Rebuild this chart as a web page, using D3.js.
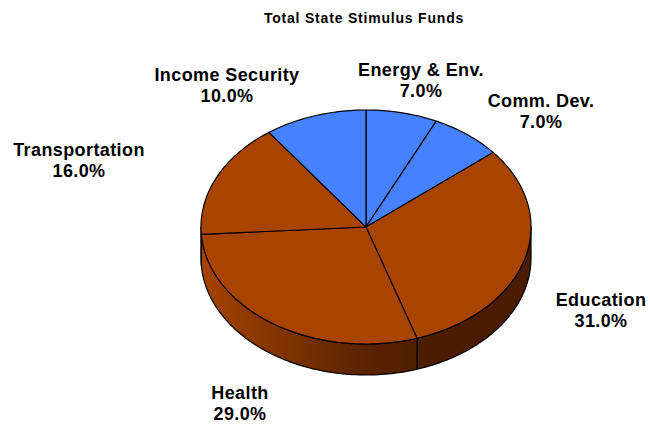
<!DOCTYPE html>
<html>
<head>
<meta charset="utf-8">
<script src="https://cdn.jsdelivr.net/npm/d3@7"></script>
<style>
  html, body { margin: 0; padding: 0; background: #fff; }
  svg { display: block; }
  text { font-family: "Liberation Sans", Arial, sans-serif; fill: #000; }
</style>
</head>
<body>
<svg id="chart" width="650" height="426"></svg>
<script>
// Shares of total state stimulus funds, clockwise from 12 o'clock
const categories = ["Energy & Env.", "Comm. Dev.", "Education", "Health", "Transportation", "Income Security"];
const shares = [7.0, 7.0, 31.0, 29.0, 16.0, 10.0];
const groups = ["blue", "blue", "brown", "brown", "brown", "blue"];

// Label anchors (centre of first line) for each category
const labelAnchors = [[421, 70], [541, 101], [601, 300], [240, 393], [79, 150], [227, 75]];

const W = 650, H = 426;
const cx = 366, cy = 227, rx = 165, ry = 117, depth = 31;

const topFill = { blue: "#4682FF", brown: "#A84400" };

const svg = d3.select("#chart");
const defs = svg.append("defs");

// Side wall shading: lit from the left, fading dark toward the right
const grad = defs.append("linearGradient")
  .attr("id", "sideShade")
  .attr("gradientUnits", "userSpaceOnUse")
  .attr("x1", cx - rx).attr("y1", 0)
  .attr("x2", cx + rx).attr("y2", 0);
grad.append("stop").attr("offset", "0").attr("stop-color", "#A54300");
grad.append("stop").attr("offset", "0.18").attr("stop-color", "#8A3700");
grad.append("stop").attr("offset", "0.5").attr("stop-color", "#5A2300");
grad.append("stop").attr("offset", "0.7").attr("stop-color", "#4C1C00");
grad.append("stop").attr("offset", "1").attr("stop-color", "#4A1B00");

const pie = d3.pie().sort(null).startAngle(0).endAngle(2 * Math.PI).value(d => d.value);
const data = categories.map((c, i) => ({ name: c, value: shares[i], group: groups[i] }));
const arcs = pie(data);

// Point on the tilted rim; angle measured clockwise from 12 o'clock
const px = a => cx + rx * Math.sin(a);
const py = (a, dz = 0) => cy - ry * Math.cos(a) + dz;

function rimPoints(a0, a1, dz) {
  const n = Math.max(2, Math.ceil(Math.abs(a1 - a0) / 0.02));
  const pts = [];
  for (let k = 0; k <= n; k++) {
    const a = a0 + (a1 - a0) * k / n;
    pts.push([px(a), py(a, dz)]);
  }
  return pts;
}

const line = d3.line();

// Side walls: only the front half (90°..270°) is visible
const front0 = Math.PI / 2, front1 = 3 * Math.PI / 2;
const sides = arcs.map(d => {
  const a0 = Math.max(d.startAngle, front0), a1 = Math.min(d.endAngle, front1);
  if (a1 <= a0) return null;
  const pts = rimPoints(a0, a1, 0).concat(rimPoints(a1, a0, depth));
  return line(pts) + "Z";
}).filter(Boolean);

svg.append("g").selectAll("path")
  .data(sides)
  .join("path")
  .attr("d", d => d)
  .attr("fill", "url(#sideShade)")
  .attr("stroke", "#000")
  .attr("stroke-width", 1.2)
  .attr("stroke-linejoin", "round");

// Top faces
svg.append("g").selectAll("path")
  .data(arcs)
  .join("path")
  .attr("d", d => line([[cx, cy]].concat(rimPoints(d.startAngle, d.endAngle, 0))) + "Z")
  .attr("fill", d => topFill[d.data.group])
  .attr("stroke", "#000")
  .attr("stroke-width", 1.2)
  .attr("stroke-linejoin", "round");

// Title
svg.append("text")
  .attr("x", 364).attr("y", 23)
  .attr("text-anchor", "middle")
  .attr("font-size", 14)
  .attr("font-weight", "bold")
  .attr("letter-spacing", 0.8)
  .text("Total State Stimulus Funds");

// Category labels with percentages
const fmt = d3.format(".1f");
const labels = svg.append("g").selectAll("text")
  .data(arcs)
  .join("text")
  .attr("text-anchor", "middle")
  .attr("font-size", 18)
  .attr("font-weight", "bold")
  .attr("letter-spacing", 0.4);

labels.append("tspan")
  .attr("x", (d, i) => labelAnchors[i][0])
  .attr("y", (d, i) => labelAnchors[i][1] + 6)
  .text(d => d.data.name);
labels.append("tspan")
  .attr("x", (d, i) => labelAnchors[i][0])
  .attr("y", (d, i) => labelAnchors[i][1] + 27)
  .text(d => fmt(d.data.value) + "%");
</script>
</body>
</html>
